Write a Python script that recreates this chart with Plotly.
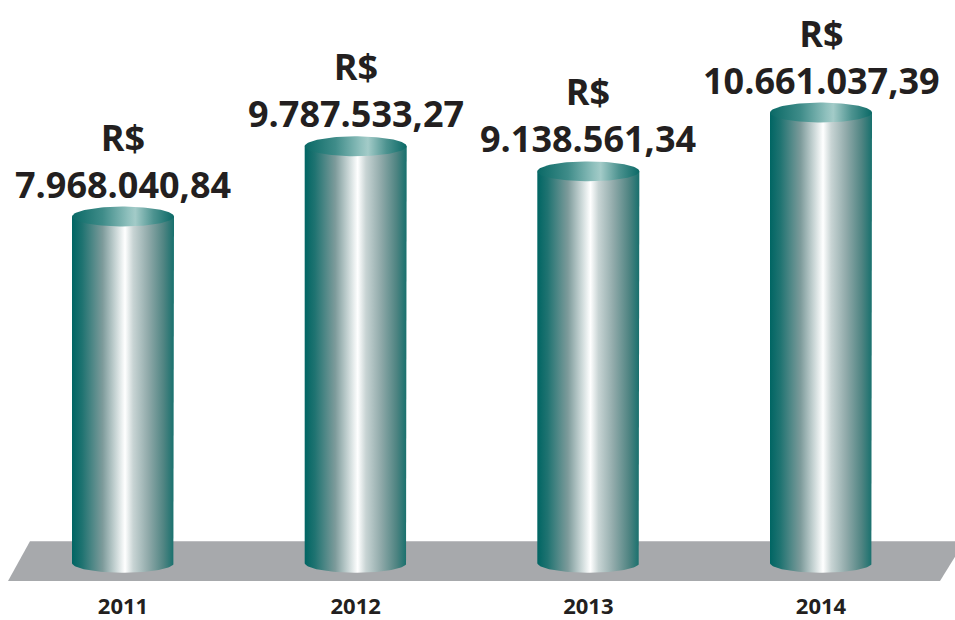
import numpy as np
import plotly.graph_objects as go

# data
years = [2011, 2012, 2013, 2014]
values = [7968040.84, 9787533.27, 9138561.34, 10661037.39]
value_labels = ["7.968.040,84", "9.787.533,27", "9.138.561,34", "10.661.037,39"]
currency = "R$"

# layout constants (pixels -> axis units)
W, H = 955, 620
plot_h = 595
x_range = [2010.4713, 2014.5759]
y_range = [-1.728e6, 13.575e6]
px_x = (x_range[1] - x_range[0]) / W
px_y = (y_range[1] - y_range[0]) / plot_h

half_w = 51 * px_x      # cylinder half width
ry = 10 * px_y          # ellipse vertical radius
base = -1.0e6           # cylinder bottom sits on the floor

body_scale = [
    [0.0, "#006563"], [0.1, "#1f7371"], [0.3, "#7d9b9b"], [0.45, "#d5dfdf"],
    [0.52, "#ffffff"], [0.6, "#c8d4d4"], [0.75, "#8fa9a9"], [0.9, "#4f8482"],
    [1.0, "#17706d"],
]
cap_scale = [
    [0.0, "#0a6966"], [0.3, "#3f8c89"], [0.55, "#8fc0bd"], [0.62, "#a3cbc8"],
    [0.8, "#4d9390"], [1.0, "#0a6966"],
]

fig = go.Figure()

t_low = np.linspace(0, -np.pi, 60)
t_full = np.linspace(0, 2 * np.pi, 120)

for yr, v in zip(years, values):
    # body: rectangle plus lower half of the bottom ellipse
    bx = [yr - half_w, yr - half_w, yr + half_w, yr + half_w] + list(yr + half_w * np.cos(t_low))
    by = [base, v, v, base] + list(base + ry * np.sin(t_low))
    fig.add_trace(go.Scatter(
        x=bx, y=by, mode="lines", fill="toself", line=dict(width=0),
        fillgradient=dict(type="horizontal", colorscale=body_scale),
        hoverinfo="skip", showlegend=False,
    ))
    # top cap
    fig.add_trace(go.Scatter(
        x=yr + half_w * np.cos(t_full), y=v + ry * np.sin(t_full),
        mode="lines", fill="toself", line=dict(width=0),
        fillgradient=dict(type="horizontal", colorscale=cap_scale),
        hoverinfo="skip", showlegend=False,
    ))

for yr, v, lab in zip(years, values, value_labels):
    fig.add_annotation(
        x=yr, y=v, yanchor="bottom", yshift=6, showarrow=False,
        text=f"<b>{currency}<br>{lab}</b>",
        font=dict(family="Open Sans", size=36, color="#231f20"),
    )

# grey floor
fig.add_shape(
    type="path", xref="paper", yref="paper", layer="below",
    path="M 0.0314 0.0840 L 1.01 0.0840 L 0.9843 0.0168 L 0.0084 0.0168 Z",
    fillcolor="#a7a9ac", line=dict(width=0),
)

fig.update_layout(
    width=W, height=H,
    margin=dict(l=0, r=0, t=0, b=H - plot_h),
    plot_bgcolor="white", paper_bgcolor="white",
    showlegend=False,
    xaxis=dict(
        range=x_range, tickvals=years, ticktext=[str(y) for y in years],
        showgrid=False, zeroline=False, showline=False, ticks="",
        tickfont=dict(family="Open Sans", size=22, color="#231f20", weight="bold"),
    ),
    yaxis=dict(range=y_range, visible=False),
)

# page body has an 8px default margin, drop it so the chart fills the window
fig.write_html("out.html", config={"displayModeBar": False},
               post_script="document.body.style.margin='0';")
